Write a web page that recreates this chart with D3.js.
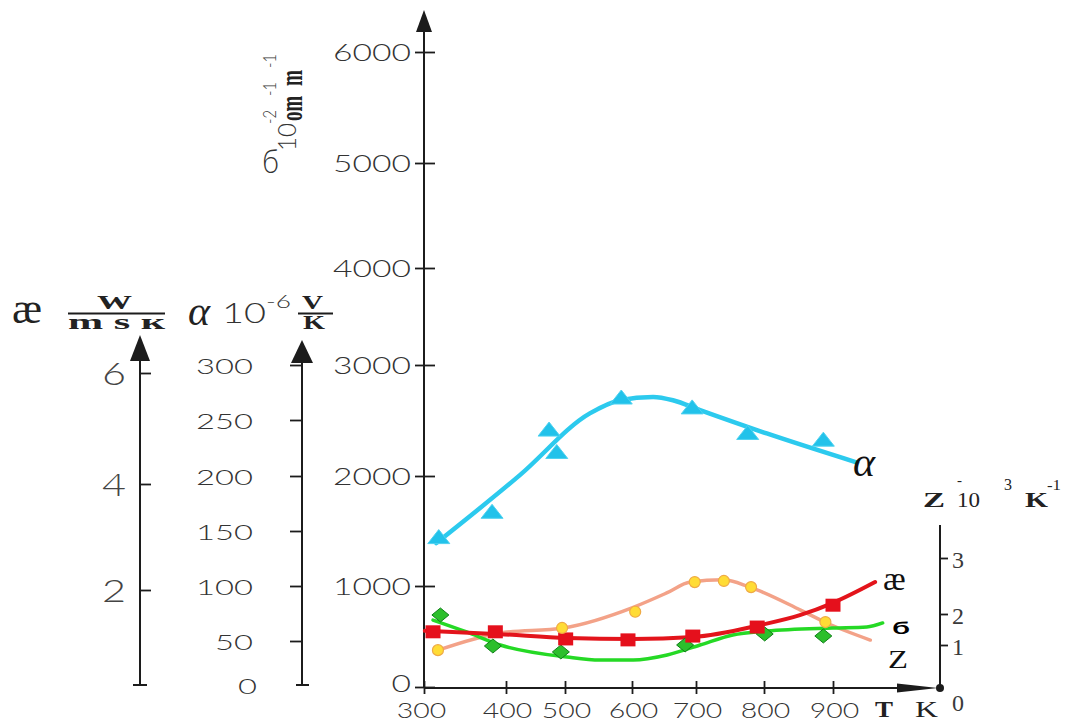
<!DOCTYPE html>
<html>
<head>
<meta charset="utf-8">
<script src="https://cdn.jsdelivr.net/npm/d3@7"></script>
<style>
  body { margin: 0; background: #fff; }
  svg { display: block; }
  .num { font-family: Lato, 'DejaVu Sans', sans-serif; font-weight: 300; fill: #333; }
  .ser { font-family: 'Liberation Serif', serif; fill: #222; }
</style>
</head>
<body>
<svg id="chart" width="1067" height="722"></svg>
<script>
// tick values of each axis
const tempTicks = [300, 400, 500, 600, 700, 800, 900];
const sigmaTicks = [0, 1000, 2000, 3000, 4000, 5000, 6000];
const alphaTicks = [0, 50, 100, 150, 200, 250, 300];
const kappaTicks = [2, 4, 6];
const zTicks = [0, 1, 2, 3];

// measured points (T in K)
const alphaT = [318, 383, 473, 486, 584, 694, 776, 886];
const alphaV = [144, 167, 241, 221, 270, 261, 238, 232];
const kappaT = [311, 387, 501, 594, 695, 790, 900];
const kappaV = [1.12, 1.12, 0.97, 0.95, 1.03, 1.22, 1.68];
const sigmaT = [320, 384, 493, 683, 801, 886];
const sigmaV = [713, 406, 347, 416, 525, 505];
const zT = [317, 495, 605, 698, 741, 781, 889];
const zV = [0.88, 1.55, 2.04, 2.57, 2.59, 2.48, 1.74];

// smoothed curves drawn through the points
const alphaFitT = [315, 424, 537, 582, 633, 664, 706, 804, 935];
const alphaFitV = [139, 201, 256, 268, 271, 268, 259, 238, 212];
const kappaFitT = [301, 393, 503, 601, 696, 794, 852, 900, 961];
const kappaFitV = [1.14, 1.07, 0.99, 0.97, 1.01, 1.26, 1.47, 1.73, 2.15];
const sigmaFitT = [311, 352, 393, 503, 552, 602, 655, 706, 754, 804, 900, 949, 972];
const sigmaFitV = [663, 545, 416, 297, 267, 267, 317, 416, 515, 554, 584, 594, 634];
const zFitT = [317, 393, 497, 602, 655, 691, 740, 779, 853, 891, 954];
const zFitV = [0.88, 1.39, 1.55, 2.12, 2.38, 2.57, 2.61, 2.48, 2.07, 1.71, 1.16];

const svg = d3.select('#chart');

// the original is drawn by hand, tick spacing is uneven -> piecewise scales
const x = d3.scaleLinear().domain(tempTicks).range([424, 506, 565, 632, 696, 764, 833]);
const ySigma = d3.scaleLinear().domain(sigmaTicks).range([687, 586, 476, 365, 268, 163, 52]);
const yAlpha = d3.scaleLinear().domain(alphaTicks).range([685, 641, 586, 531, 476, 420, 365]);
const yKappa = d3.scaleLinear().domain([0, ...kappaTicks]).range([685, 590, 484, 373]);
const yZ = d3.scaleLinear().domain(zTicks).range([688, 645, 614, 558]);

const X0 = 424, Y0 = 688;
const KAPPA_X = 140, ALPHA_X = 302, Z_X = 940;
const ink = '#1c1c1c';

function clean(g) {
  g.attr('font-size', null).attr('font-family', null).style('color', ink);
  g.select('.domain').remove();
  g.selectAll('.tick line').attr('stroke-width', 1.8);
}

// wide, light digits of the original: stretch the glyphs instead of spacing them
function wide(perDigit) {
  return sel => sel.attr('textLength', d => String(d).length * perDigit)
    .attr('lengthAdjust', 'spacingAndGlyphs');
}

function arrowUp(cx, tip, base, half) {
  svg.append('path')
    .attr('d', `M${cx},${tip}L${cx - half},${base}L${cx + half},${base}Z`)
    .attr('fill', ink);
}

// main sigma axis
svg.append('line').attr('x1', X0).attr('x2', X0).attr('y1', Y0).attr('y2', 28)
  .attr('stroke', ink).attr('stroke-width', 2);
arrowUp(X0, 10, 32, 8);
const gY = svg.append('g').attr('transform', `translate(${X0},0)`)
  .call(d3.axisLeft(ySigma).tickValues(sigmaTicks).tickSize(9).tickFormat(d3.format('d')))
  .call(clean);
gY.selectAll('.tick line').attr('x1', 11).attr('x2', -9);
gY.selectAll('.tick text').attr('class', 'num').attr('x', -13).attr('dy', '0.36em')
  .style('font-size', '23px').call(wide(19.5));
gY.selectAll('.tick').filter(d => d === 0).select('text').attr('dy', '0.18em');

// temperature axis
svg.append('line').attr('x1', X0).attr('x2', 900).attr('y1', Y0).attr('y2', Y0)
  .attr('stroke', ink).attr('stroke-width', 2);
svg.append('path').attr('d', `M897,${Y0 - 4.5}L897,${Y0 + 4.5}L938,${Y0}Z`).attr('fill', ink);
svg.append('circle').attr('cx', Z_X).attr('cy', Y0).attr('r', 4).attr('fill', ink);
const gX = svg.append('g').attr('transform', `translate(0,${Y0})`)
  .call(d3.axisBottom(x).tickValues(tempTicks).tickSize(6).tickFormat(d3.format('d')))
  .call(clean);
gX.selectAll('.tick line').attr('y1', -7).attr('y2', 6);
gX.selectAll('.tick text').attr('class', 'num').attr('y', 30).attr('dy', 0).attr('dx', 1)
  .style('font-size', '22px').call(wide(16.5));
gX.selectAll('.tick').filter(d => d === 300).select('text').attr('dx', -3);
svg.append('text').attr('class', 'ser').attr('x', 875).attr('y', 717)
  .attr('textLength', 18).attr('lengthAdjust', 'spacingAndGlyphs')
  .style('font-size', '23px').style('font-weight', 'bold').text('T');
svg.append('text').attr('class', 'ser').attr('x', 915).attr('y', 717)
  .attr('textLength', 23).attr('lengthAdjust', 'spacingAndGlyphs')
  .style('font-size', '23px').text('K');

// alpha axis
svg.append('line').attr('x1', ALPHA_X).attr('x2', ALPHA_X).attr('y1', 685).attr('y2', 358)
  .attr('stroke', ink).attr('stroke-width', 2);
svg.append('line').attr('x1', ALPHA_X - 6).attr('x2', ALPHA_X + 7).attr('y1', 685).attr('y2', 685)
  .attr('stroke', ink).attr('stroke-width', 2);
arrowUp(ALPHA_X, 340, 363, 11);
const gA = svg.append('g').attr('transform', `translate(${ALPHA_X},0)`)
  .call(d3.axisLeft(yAlpha).tickValues(alphaTicks).tickSize(12).tickFormat(d3.format('d')))
  .call(clean);
gA.selectAll('.tick').filter(d => d === 0).select('line').remove();
gA.selectAll('.tick text').attr('class', 'num').attr('x', -49).attr('dy', '0.42em')
  .style('font-size', '21px').call(wide(19));
gA.selectAll('.tick').filter(d => d === 0).select('text').attr('x', -45);

// kappa axis
svg.append('line').attr('x1', KAPPA_X).attr('x2', KAPPA_X).attr('y1', 685).attr('y2', 356)
  .attr('stroke', ink).attr('stroke-width', 2);
svg.append('line').attr('x1', KAPPA_X - 7).attr('x2', KAPPA_X + 7).attr('y1', 685).attr('y2', 685)
  .attr('stroke', ink).attr('stroke-width', 2);
arrowUp(KAPPA_X, 335, 361, 10);
const gK = svg.append('g').attr('transform', `translate(${KAPPA_X},0)`)
  .call(d3.axisRight(yKappa).tickValues(kappaTicks).tickSize(11).tickFormat(d3.format('d')))
  .call(clean);
gK.selectAll('.tick text').attr('class', 'num').attr('x', -14).attr('dy', '0.38em')
  .attr('text-anchor', 'end').style('font-size', '31px').style('fill', '#444')
  .call(wide(24));

// Z axis
svg.append('line').attr('x1', Z_X).attr('x2', Z_X).attr('y1', Y0).attr('y2', 525)
  .attr('stroke', ink).attr('stroke-width', 2);
const gZ = svg.append('g').attr('transform', `translate(${Z_X},0)`)
  .call(d3.axisRight(yZ).tickValues(zTicks).tickSize(8).tickFormat(d3.format('d')))
  .call(clean);
gZ.selectAll('.tick').filter(d => d === 0).select('line').remove();
gZ.selectAll('.tick text').attr('class', 'ser').attr('x', 12).attr('dy', '0.38em')
  .style('font-size', '24px').style('fill', '#3a3a3a');
gZ.selectAll('.tick').filter(d => d === 0).select('text').attr('dy', '0.95em');

// axis titles
function txt(cls, xx, yy, s, size, extra) {
  const t = svg.append('text').attr('class', cls).attr('x', xx).attr('y', yy)
    .style('font-size', size + 'px').text(s);
  if (extra) extra(t);
  return t;
}
const bold = t => t.style('font-weight', 'bold');
const fit = w => t => t.attr('textLength', w).attr('lengthAdjust', 'spacingAndGlyphs');

txt('ser', 12, 323, 'æ', 45);
txt('ser', 97, 309, 'W', 19, t => { bold(t); fit(35)(t); });
svg.append('line').attr('x1', 68).attr('x2', 165).attr('y1', 313.5).attr('y2', 313.5)
  .attr('stroke', ink).attr('stroke-width', 1.8);
txt('ser', 68, 329, 'm s к', 21, t => { bold(t); fit(97)(t); });
txt('ser', 188, 325, 'α', 42, t => t.style('font-style', 'italic'));
txt('num', 222, 323, '10', 28, fit(44));
txt('num', 266, 308, '-6', 17, fit(25));
txt('ser', 302, 309, 'V', 18, t => { bold(t); fit(21)(t); });
svg.append('line').attr('x1', 298).attr('x2', 333).attr('y1', 313.5).attr('y2', 313.5)
  .attr('stroke', ink).attr('stroke-width', 1.8);
txt('ser', 303, 329, 'K', 19, t => { bold(t); fit(22)(t); });

// rotated sigma title
txt('num', 262, 173, 'б', 33, fit(17));
const rot = svg.append('g').attr('transform', 'translate(300,176) rotate(-90)');
function rtxt(cls, xx, yy, s, size, extra) {
  const t = rot.append('text').attr('class', cls).attr('x', xx).attr('y', yy)
    .style('font-size', size + 'px').text(s);
  if (extra) extra(t);
}
rtxt('num', 25, -4, '10', 25, fit(28));
rtxt('num', 52, -24, '-2', 17, fit(14));
rtxt('ser', 55, 2, 'om', 32, t => { bold(t); fit(25)(t); });
rtxt('num', 80, -24, '-1', 17, fit(14));
rtxt('ser', 90, 2, 'm', 32, t => { bold(t); fit(16)(t); });
rtxt('num', 108, -24, '-1', 17, fit(14));

// Z title
txt('ser', 923, 507, 'Z', 21, t => { bold(t); fit(22)(t); });
txt('ser', 957, 507, '10', 22, fit(23));
txt('ser', 957, 485, '-', 15);
txt('ser', 1004, 490, '3', 16);
txt('ser', 1025, 507, 'K', 21, t => { bold(t); fit(23)(t); });
txt('ser', 1047, 490, '-1', 15, fit(14));

// curves
const series = [
  { t: zFitT, v: zFitV, y: yZ, color: '#f3a288', w: 3.5 },
  { t: sigmaFitT, v: sigmaFitV, y: ySigma, color: '#25d925', w: 3.5 },
  { t: kappaFitT, v: kappaFitV, y: yKappa, color: '#e3141b', w: 4 },
  { t: alphaFitT, v: alphaFitV, y: yAlpha, color: '#2ccaee', w: 4.5 }
];
series.forEach(s => {
  const line = d3.line().x(i => x(s.t[i])).y(i => s.y(s.v[i])).curve(d3.curveMonotoneX);
  svg.append('path').attr('d', line(d3.range(s.t.length)))
    .attr('fill', 'none').attr('stroke', s.color).attr('stroke-width', s.w)
    .attr('stroke-linecap', 'round').attr('stroke-linejoin', 'round');
});

// markers
svg.append('g').selectAll('path').data(d3.range(sigmaT.length)).join('path')
  .attr('transform', i => `translate(${x(sigmaT[i])},${ySigma(sigmaV[i])})`)
  .attr('d', 'M0,-7L8.5,0L0,7L-8.5,0Z')
  .attr('fill', '#2cbf2c').attr('stroke', '#11801a').attr('stroke-width', 1);
svg.append('g').selectAll('rect').data(d3.range(kappaT.length)).join('rect')
  .attr('x', i => x(kappaT[i]) - 7.5).attr('y', i => yKappa(kappaV[i]) - 6.5)
  .attr('width', 15).attr('height', 13).attr('fill', '#e5101c');
svg.append('g').selectAll('circle').data(d3.range(zT.length)).join('circle')
  .attr('cx', i => x(zT[i])).attr('cy', i => yZ(zV[i])).attr('r', 5.5)
  .attr('fill', '#ffdc35').attr('stroke', '#efaa45').attr('stroke-width', 1.2);
svg.append('g').selectAll('path').data(d3.range(alphaT.length)).join('path')
  .attr('transform', i => `translate(${x(alphaT[i])},${yAlpha(alphaV[i])})`)
  .attr('d', 'M0,-8L11,6L-11,6Z')
  .attr('fill', '#22c2ea').attr('stroke', '#4fd2f0').attr('stroke-width', 1);

// curve names
txt('ser', 853, 476, 'α', 42, t => t.style('font-style', 'italic').style('fill', '#111'));
txt('ser', 883, 590, 'æ', 34, t => t.style('fill', '#111'));
txt('num', 892, 634, 'б', 17, t => { t.style('font-weight', 'bold'); fit(18)(t); t.style('fill', '#000'); });
txt('ser', 888, 668, 'Z', 25, t => { fit(20)(t); t.style('fill', '#111'); });
</script>
</body>
</html>
